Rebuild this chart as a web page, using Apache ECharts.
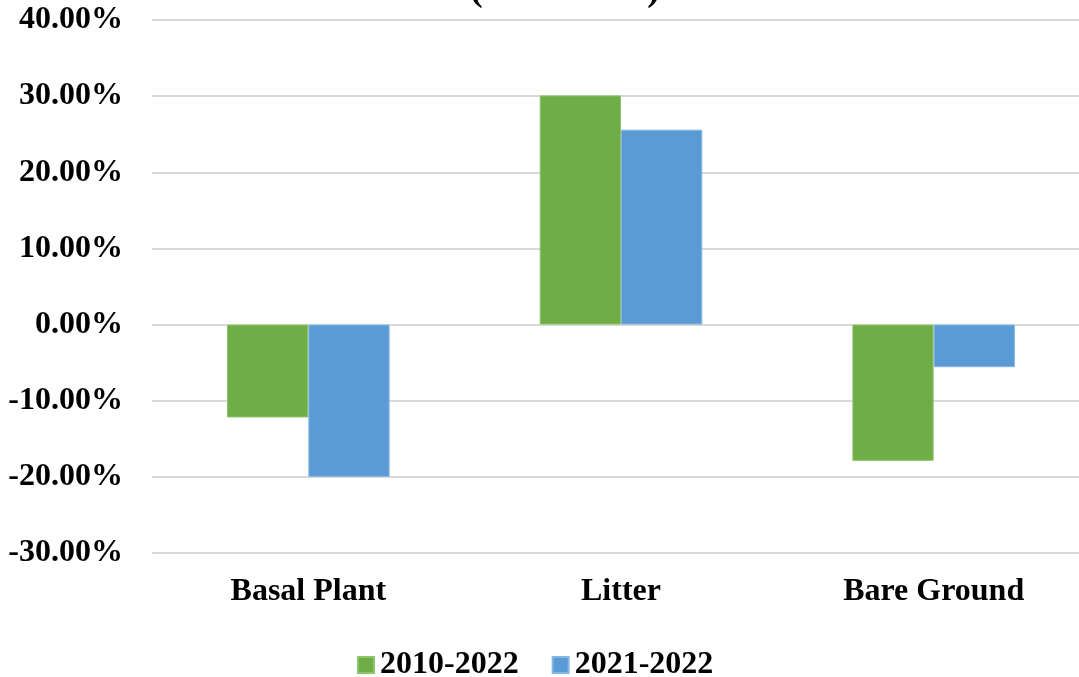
<!DOCTYPE html>
<html>
<head>
<meta charset="utf-8">
<script src="https://cdn.jsdelivr.net/npm/echarts@6/dist/echarts.min.js"></script>
<style>
  html, body { margin: 0; padding: 0; background: #fff; overflow: hidden; }
  /* plot area runs slightly past the right edge of the window */
  #chart { width: 1090px; height: 677px; }
</style>
</head>
<body>
<div id="chart"></div>
<script>
// Ground cover change by cover type, in percent
const categories = ['Basal Plant', 'Litter', 'Bare Ground'];
const seriesNames = ['2010-2022', '2021-2022'];
const change2010to2022 = [-12.2, 30.1, -17.9];
const change2021to2022 = [-20.0, 25.6, -5.6];
const titleText = '(2010-2022)';

const serif = '"Liberation Serif", "Times New Roman", serif';
const chart = echarts.init(document.getElementById('chart'));

chart.setOption({
  animation: false,
  color: ['#70AD47', '#5B9BD5'],
  title: {
    text: titleText,
    left: 565,
    textAlign: 'center',
    top: -29,
    padding: 0,
    textStyle: { fontFamily: serif, fontWeight: 'bold', fontSize: 38, color: '#000' }
  },
  grid: { left: 152, right: 0, top: 20, bottom: 124, containLabel: false },
  legend: {
    top: 644,
    left: 352,
    itemWidth: 16,
    itemHeight: 16,
    itemGap: 33,
    icon: 'rect',
    textStyle: { fontFamily: serif, fontWeight: 'bold', fontSize: 32, color: '#000', padding: [0, 0, 0, 1] },
    data: seriesNames
  },
  xAxis: {
    type: 'category',
    data: categories,
    axisLine: { show: false },
    axisTick: { show: false },
    axisLabel: { margin: 23, fontFamily: serif, fontWeight: 'bold', fontSize: 32, color: '#000' }
  },
  yAxis: {
    type: 'value',
    min: -30,
    max: 40,
    interval: 10,
    axisLine: { show: false },
    axisTick: { show: false },
    splitLine: { lineStyle: { color: '#d9d9d9', width: 2 } },
    axisLabel: {
      margin: 29,
      fontFamily: serif, fontWeight: 'bold', fontSize: 32, color: '#000',
      formatter: v => v.toFixed(2) + '%'
    }
  },
  series: [
    {
      name: seriesNames[0],
      type: 'bar',
      data: change2010to2022,
      barGap: '0%',
      barCategoryGap: '48%',
      itemStyle: { borderColor: '#8cc56a', borderWidth: 1 }
    },
    {
      name: seriesNames[1],
      type: 'bar',
      data: change2021to2022,
      barGap: '0%',
      barCategoryGap: '48%',
      itemStyle: { borderColor: '#86b7e3', borderWidth: 1 }
    }
  ]
});
</script>
</body>
</html>
